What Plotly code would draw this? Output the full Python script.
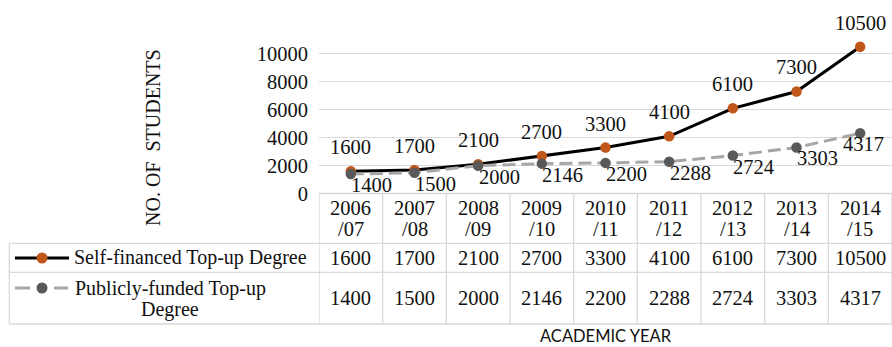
import plotly.graph_objects as go

# ---- data ----
years = ["2006/07", "2007/08", "2008/09", "2009/10", "2010/11",
         "2011/12", "2012/13", "2013/14", "2014/15"]
self_financed = [1600, 1700, 2100, 2700, 3300, 4100, 6100, 7300, 10500]
publicly_funded = [1400, 1500, 2000, 2146, 2200, 2288, 2724, 3303, 4317]
series_names = ["Self-financed Top-up Degree", "Publicly-funded Top-up Degree"]
y_ticks = [0, 2000, 4000, 6000, 8000, 10000]

# ---- layout helpers (figure is 892 x 347 px) ----
W, H = 892, 347


def px(xp):
    return xp / W


def py(yp):
    return 1 - yp / H


SERIF = "Liberation Serif"
FS_NUM = 20.5   # numbers: ticks, value labels, table cells
FS_TXT = 20     # words: legend text, axis title
TXT = "#111111"
GRID = "#d9d9d9"
ORANGE = "#c0561a"
DGREY = "#595959"
LGREY = "#a6a6a6"

fig = go.Figure()

fig.add_trace(go.Scatter(
    x=years, y=self_financed, mode="lines+markers", name=series_names[0],
    line=dict(color="black", width=3),
    marker=dict(color=ORANGE, size=10.5),
    cliponaxis=False, showlegend=False,
))
fig.add_trace(go.Scatter(
    x=years, y=publicly_funded, mode="lines+markers", name=series_names[1],
    line=dict(color=LGREY, width=3, dash="13px,6px"),
    marker=dict(color=DGREY, size=10.5),
    cliponaxis=False, showlegend=False,
))

annotations = []
n = len(years)


def label(size=FS_NUM, **kw):
    base = dict(showarrow=False, xanchor="center", yanchor="middle",
                font=dict(family=SERIF, size=size, color=TXT))
    base.update(kw)
    return base


# value labels on the lines
for c, v in zip(years, self_financed):
    annotations.append(label(x=c, y=v, xref="x", yref="y", text=str(v), yshift=24))
for i, (c, v) in enumerate(zip(years, publicly_funded)):
    annotations.append(label(x=c, y=v, xref="x", yref="y", text=str(v), yshift=-11,
                             xshift=21 if i < n - 1 else 3))

# data table below the chart
TOP, ROW_H, ROW1, ROW2 = 193.5, 243.3, 272.3, 324.0
for i, c in enumerate(years):
    first, second = c.split("/")
    annotations.append(label(x=c, y=py(208), xref="x", yref="paper", text=first))
    annotations.append(label(x=c, y=py(229), xref="x", yref="paper", text="/" + second))
    annotations.append(label(x=c, y=py(257.5), xref="x", yref="paper",
                             text=str(self_financed[i])))
    annotations.append(label(x=c, y=py(297.5), xref="x", yref="paper",
                             text=str(publicly_funded[i])))

# legend keys inside the table
annotations.append(label(size=FS_TXT, x=px(190), y=py(257.5), xref="paper", yref="paper",
                         text=series_names[0]))
annotations.append(label(size=FS_TXT, x=px(170), y=py(288), xref="paper", yref="paper",
                         text="Publicly-funded Top-up"))
annotations.append(label(size=FS_TXT, x=px(170), y=py(309), xref="paper", yref="paper",
                         text="Degree"))

# axis titles
annotations.append(label(size=FS_TXT, x=px(153), y=py(138), xref="paper", yref="paper",
                         text="NO. OF\u00a0 STUDENTS", textangle=-90))
annotations.append(label(x=px(606), y=0, xref="paper", yref="paper",
                         yanchor="bottom", borderpad=0,
                         text="ACADEMIC YEAR",
                         font=dict(family="Lato", size=16.5, color=TXT)))

shapes = []
LW = 1.3
# horizontal table rules
shapes.append(dict(type="line", xref="paper", yref="paper",
                   x0=px(319), x1=1, y0=py(TOP), y1=py(TOP),
                   line=dict(color=GRID, width=LW)))
for yy in (ROW_H, ROW1, ROW2):
    shapes.append(dict(type="line", xref="paper", yref="paper",
                       x0=px(9.3), x1=1, y0=py(yy), y1=py(yy),
                       line=dict(color=GRID, width=LW)))
# vertical table rules
for k in range(n + 1):
    shapes.append(dict(type="line", xref="x", yref="paper",
                       x0=k - 0.5, x1=k - 0.5, y0=py(TOP), y1=py(ROW2),
                       line=dict(color=GRID, width=LW)))
shapes.append(dict(type="line", xref="paper", yref="paper",
                   x0=px(9.3), x1=px(9.3), y0=py(ROW_H), y1=py(ROW2),
                   line=dict(color=GRID, width=LW)))

# legend symbols
shapes.append(dict(type="line", xref="paper", yref="paper",
                   x0=px(15), x1=px(69), y0=py(258), y1=py(258),
                   line=dict(color="black", width=3)))
shapes.append(dict(type="circle", xref="paper", yref="paper",
                   x0=px(36.5), x1=px(47.5), y0=py(263.5), y1=py(252.5),
                   fillcolor=ORANGE, line=dict(width=0)))
for a, b in ((15, 30), (54, 68)):
    shapes.append(dict(type="line", xref="paper", yref="paper",
                       x0=px(a), x1=px(b), y0=py(288), y1=py(288),
                       line=dict(color=LGREY, width=3)))
shapes.append(dict(type="circle", xref="paper", yref="paper",
                   x0=px(36.5), x1=px(47.5), y0=py(293.5), y1=py(282.5),
                   fillcolor=DGREY, line=dict(width=0)))

fig.update_layout(
    width=W, height=H, autosize=False,
    margin=dict(l=0, r=0, t=0, b=0, autoexpand=False),
    paper_bgcolor="white", plot_bgcolor="white",
    xaxis=dict(domain=[px(319), 1], type="category", range=[-0.5, n - 0.5],
               showticklabels=False, showgrid=False, zeroline=False,
               showline=False, ticks="", automargin=False),
    yaxis=dict(domain=[py(193.7), py(25.7)], range=[0, 12000],
               tickvals=y_ticks, ticktext=[str(t) for t in y_ticks],
               showgrid=True, gridcolor=GRID, gridwidth=1.3,
               zeroline=False, showline=False, ticks="",
               ticklabelstandoff=10, automargin=False,
               tickfont=dict(family=SERIF, size=FS_NUM, color=TXT)),
    annotations=annotations,
    shapes=shapes,
    showlegend=False,
)

fig.write_html("out.html")
